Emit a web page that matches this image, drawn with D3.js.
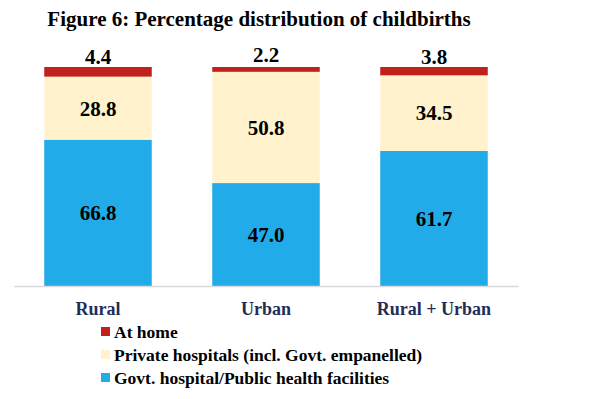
<!DOCTYPE html>
<html>
<head>
<meta charset="utf-8">
<script src="https://cdn.jsdelivr.net/npm/d3@7"></script>
<style>
  body { margin: 0; background: #fff; }
  text { font-family: "Liberation Serif", "Times New Roman", serif; font-weight: bold; }
</style>
</head>
<body>
<div id="chart"></div>
<script>
// data
var categories = ["Rural", "Urban", "Rural + Urban"];
var seriesNames = ["Govt. hospital/Public health facilities", "Private hospitals (incl. Govt. empanelled)", "At home"];
var govtValues = [66.8, 47.0, 61.7];
var privateValues = [28.8, 50.8, 34.5];
var homeValues = [4.4, 2.2, 3.8];
var colors = ["#21ACE9", "#FFF2CC", "#C0211B"];

var svgWidth = 589;
var svgHeight = 399;

var margin = {top: 67, right: 71, bottom: 113, left: 14};
var width = svgWidth - margin.left - margin.right;
var height = svgHeight - margin.top - margin.bottom;

var svg = d3.select("#chart")
    .append("svg")
    .attr("width", svgWidth)
    .attr("height", svgHeight);

svg.append("text")
    .attr("x", 259)
    .attr("y", 26)
    .attr("text-anchor", "middle")
    .attr("font-size", "21px")
    .attr("fill", "#000")
    .text("Figure 6: Percentage distribution of childbirths");

var chartGroup = svg.append("g")
    .attr("transform", `translate(${margin.left}, ${margin.top})`);

// build rows for the stack
var rows = categories.map(function(c, i) {
    return {cat: c, govt: govtValues[i], priv: privateValues[i], home: homeValues[i]};
});
var keys = ["govt", "priv", "home"];
var stacked = d3.stack().keys(keys)(rows);

var xScale = d3.scaleBand()
    .domain(categories)
    .range([0, width])
    .paddingInner(0.36)
    .paddingOuter(0.18);

var yScale = d3.scaleLinear()
    .domain([0, 100])
    .range([height, 0]);

var layers = chartGroup.selectAll(".layer")
    .data(stacked)
    .enter()
    .append("g")
    .attr("fill", (d, i) => colors[i]);

layers.selectAll("rect")
    .data(d => d)
    .enter()
    .append("rect")
    .attr("x", d => xScale(d.data.cat))
    .attr("y", d => yScale(d[1]))
    .attr("width", xScale.bandwidth())
    .attr("height", d => yScale(d[0]) - yScale(d[1]));

// value labels: centred in segment, "At home" lifted above the bar
layers.each(function(layer, li) {
    d3.select(this).selectAll(".val")
        .data(layer)
        .enter()
        .append("text")
        .attr("x", d => xScale(d.data.cat) + xScale.bandwidth() / 2)
        .attr("y", function(d) {
            var mid = (yScale(d[0]) + yScale(d[1])) / 2;
            return li == 2 ? mid - 15 : mid;
        })
        .attr("dy", "0.35em")
        .attr("text-anchor", "middle")
        .attr("font-size", "21px")
        .attr("fill", "#000")
        .text(d => d3.format(".1f")(d[1] - d[0]));
});

// x axis
var bottomAxis = d3.axisBottom(xScale).tickSize(0).tickPadding(16);
var xAxis = chartGroup.append("g")
    .attr("transform", `translate(0, ${height})`)
    .call(bottomAxis);
xAxis.select(".domain").attr("stroke", "#D9D9D9").attr("stroke-width", 1.5);
xAxis.selectAll("text")
    .attr("font-size", "18px")
    .attr("font-family", "Liberation Serif, serif")
    .attr("fill", "#1F2D5A");

// legend
var legendOrder = [2, 1, 0];
var legend = svg.append("g")
    .attr("transform", "translate(101, 332)");
var items = legend.selectAll(".item")
    .data(legendOrder)
    .enter()
    .append("g")
    .attr("transform", (d, i) => `translate(0, ${i * 23})`);
items.append("rect")
    .attr("x", 0)
    .attr("y", -5)
    .attr("width", 9)
    .attr("height", 9)
    .attr("fill", d => colors[d]);
items.append("text")
    .attr("x", 13)
    .attr("y", 0)
    .attr("dy", "0.35em")
    .attr("font-size", "17.5px")
    .attr("fill", "#000")
    .text(d => seriesNames[d]);
</script>
</body>
</html>
